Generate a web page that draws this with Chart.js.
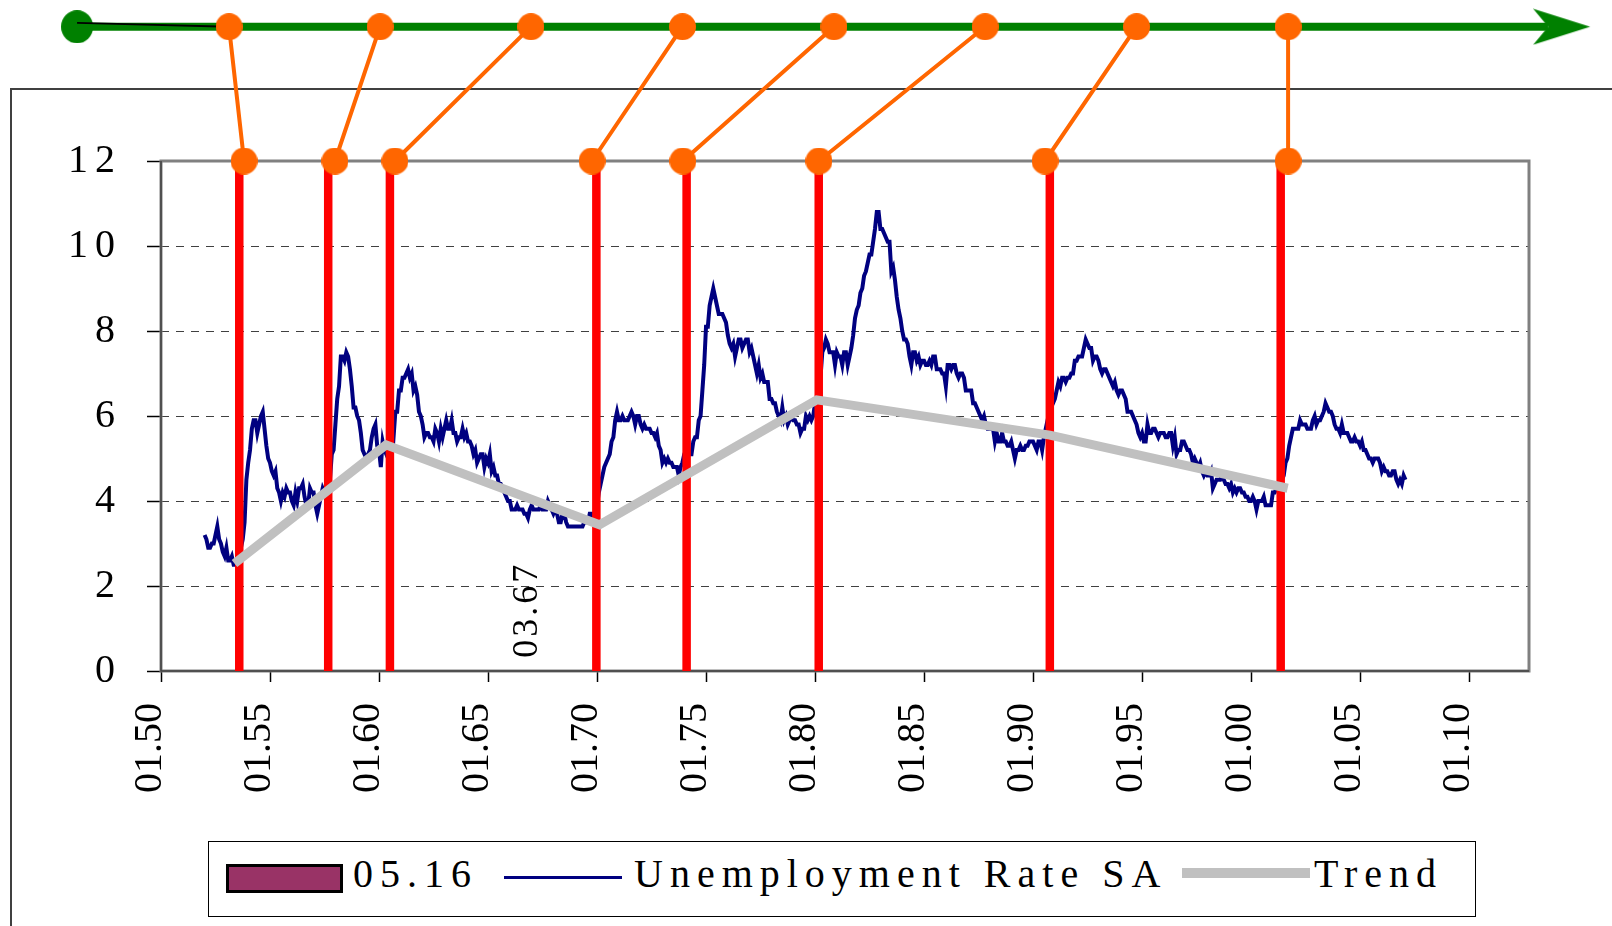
<!DOCTYPE html>
<html>
<head>
<meta charset="utf-8">
<title>Unemployment Rate SA</title>
<script src="https://cdn.jsdelivr.net/npm/chart.js@4.4.1/dist/chart.umd.min.js"></script>
<style>
  html, body { margin: 0; padding: 0; background: #fff; overflow: hidden; }
  #wrap { position: relative; width: 1612px; height: 926px; overflow: hidden; }
  #frame { position: absolute; left: 10px; top: 88px; width: 1700px; height: 900px; border: 2px solid #404040; }
  canvas { position: absolute; left: 0; top: 0; }
  #legend {
    position: absolute; left: 208px; top: 841px; width: 1266px; height: 74px;
    border: 1.5px solid #000; background: #fff;
    font-family: 'Liberation Serif', 'Times New Roman', serif; font-size: 40px; letter-spacing: 7px; color: #000;
  }
  #legend .txt { position: absolute; line-height: 40px; white-space: pre; }
  #legend .sw { position: absolute; box-sizing: border-box; }
</style>
</head>
<body>
<div id="wrap">
  <div id="frame"></div>
  <canvas id="chart" width="1612" height="926"></canvas>
  <div id="legend"></div>
</div>
<script>
// monthly unemployment rate, seasonally adjusted, Jan 1952 .. Feb 2007
const startYear = 1952;
const unrate = [
  3.2, 3.1, 2.9, 2.9, 3.0, 3.0, 3.2, 3.4, 3.1, 3.0, 2.8, 2.7,
  2.9, 2.6, 2.6, 2.7, 2.5, 2.5, 2.6, 2.7, 2.9, 3.1, 3.5, 4.5,
  4.9, 5.2, 5.7, 5.9, 5.9, 5.6, 5.8, 6.0, 6.1, 5.7, 5.3, 5.0,
  4.9, 4.7, 4.6, 4.7, 4.3, 4.2, 4.0, 4.2, 4.1, 4.3, 4.2, 4.2,
  4.0, 3.9, 4.2, 4.0, 4.3, 4.3, 4.4, 4.1, 3.9, 3.9, 4.3, 4.2,
  4.2, 3.9, 3.7, 3.9, 4.1, 4.3, 4.2, 4.1, 4.4, 4.5, 5.1, 5.2,
  5.8, 6.4, 6.7, 7.4, 7.4, 7.3, 7.5, 7.4, 7.1, 6.7, 6.2, 6.2,
  6.0, 5.9, 5.6, 5.2, 5.1, 5.0, 5.1, 5.2, 5.5, 5.7, 5.8, 5.3,
  5.2, 4.8, 5.4, 5.2, 5.1, 5.4, 5.5, 5.6, 5.5, 6.1, 6.1, 6.6,
  6.6, 6.9, 6.9, 7.0, 7.1, 6.9, 7.0, 6.6, 6.7, 6.5, 6.1, 6.0,
  5.8, 5.5, 5.6, 5.6, 5.5, 5.5, 5.4, 5.7, 5.6, 5.4, 5.7, 5.5,
  5.7, 5.9, 5.7, 5.7, 5.9, 5.6, 5.6, 5.4, 5.5, 5.5, 5.7, 5.5,
  5.6, 5.4, 5.4, 5.3, 5.1, 5.2, 4.9, 5.0, 5.1, 5.1, 4.8, 5.0,
  4.9, 5.1, 4.7, 4.8, 4.6, 4.6, 4.4, 4.4, 4.3, 4.2, 4.1, 4.0,
  4.0, 3.8, 3.8, 3.8, 3.9, 3.8, 3.8, 3.8, 3.7, 3.7, 3.6, 3.8,
  3.9, 3.8, 3.8, 3.8, 3.8, 3.9, 3.8, 3.8, 3.8, 4.0, 3.9, 3.8,
  3.7, 3.8, 3.7, 3.5, 3.5, 3.7, 3.7, 3.5, 3.4, 3.4, 3.4, 3.4,
  3.4, 3.4, 3.4, 3.4, 3.4, 3.5, 3.5, 3.5, 3.7, 3.7, 3.5, 3.5,
  3.9, 4.2, 4.4, 4.6, 4.8, 4.9, 5.0, 5.1, 5.4, 5.5, 5.9, 6.1,
  5.9, 5.9, 6.0, 5.9, 5.9, 5.9, 6.0, 6.1, 6.0, 5.8, 6.0, 6.0,
  5.8, 5.7, 5.8, 5.7, 5.7, 5.7, 5.6, 5.6, 5.5, 5.6, 5.3, 5.2,
  4.9, 5.0, 4.9, 5.0, 4.9, 4.9, 4.8, 4.8, 4.8, 4.6, 4.8, 4.9,
  5.1, 5.2, 5.1, 5.1, 5.1, 5.4, 5.5, 5.5, 5.9, 6.0, 6.6, 7.2,
  8.1, 8.1, 8.6, 8.8, 9.0, 8.8, 8.6, 8.4, 8.4, 8.4, 8.3, 8.2,
  7.9, 7.7, 7.6, 7.7, 7.4, 7.6, 7.8, 7.8, 7.6, 7.7, 7.8, 7.8,
  7.5, 7.6, 7.4, 7.2, 7.0, 7.2, 6.9, 7.0, 6.8, 6.8, 6.8, 6.4,
  6.4, 6.3, 6.3, 6.1, 6.0, 5.9, 6.2, 5.9, 6.0, 5.8, 5.9, 6.0,
  5.9, 5.9, 5.8, 5.8, 5.6, 5.7, 5.7, 6.0, 5.9, 6.0, 5.9, 6.0,
  6.3, 6.3, 6.3, 6.9, 7.5, 7.6, 7.8, 7.7, 7.5, 7.5, 7.5, 7.2,
  7.5, 7.4, 7.4, 7.2, 7.5, 7.5, 7.2, 7.4, 7.6, 7.9, 8.3, 8.5,
  8.6, 8.9, 9.0, 9.3, 9.4, 9.6, 9.8, 9.8, 10.1, 10.4, 10.8, 10.8,
  10.4, 10.4, 10.3, 10.2, 10.1, 10.1, 9.4, 9.5, 9.2, 8.8, 8.5, 8.3,
  8.0, 7.8, 7.8, 7.7, 7.4, 7.2, 7.5, 7.5, 7.3, 7.4, 7.2, 7.3,
  7.3, 7.2, 7.2, 7.3, 7.2, 7.4, 7.4, 7.1, 7.1, 7.1, 7.0, 7.0,
  6.7, 7.2, 7.2, 7.1, 7.2, 7.2, 7.0, 6.9, 7.0, 7.0, 6.9, 6.6,
  6.6, 6.6, 6.6, 6.3, 6.3, 6.2, 6.1, 6.0, 5.9, 6.0, 5.8, 5.7,
  5.7, 5.7, 5.7, 5.4, 5.6, 5.4, 5.4, 5.6, 5.4, 5.4, 5.3, 5.3,
  5.4, 5.2, 5.0, 5.2, 5.2, 5.3, 5.2, 5.2, 5.3, 5.3, 5.4, 5.4,
  5.4, 5.3, 5.2, 5.4, 5.4, 5.2, 5.5, 5.7, 5.9, 5.9, 6.2, 6.3,
  6.4, 6.6, 6.8, 6.7, 6.9, 6.9, 6.8, 6.9, 6.9, 7.0, 7.0, 7.3,
  7.3, 7.4, 7.4, 7.4, 7.6, 7.8, 7.7, 7.6, 7.6, 7.3, 7.4, 7.4,
  7.3, 7.1, 7.0, 7.1, 7.1, 7.0, 6.9, 6.8, 6.7, 6.8, 6.6, 6.5,
  6.6, 6.6, 6.5, 6.4, 6.1, 6.1, 6.1, 6.0, 5.9, 5.8, 5.6, 5.5,
  5.6, 5.4, 5.4, 5.8, 5.6, 5.6, 5.7, 5.7, 5.6, 5.5, 5.6, 5.6,
  5.6, 5.5, 5.5, 5.6, 5.6, 5.3, 5.5, 5.1, 5.2, 5.2, 5.4, 5.4,
  5.3, 5.2, 5.2, 5.1, 4.9, 5.0, 4.9, 4.8, 4.9, 4.7, 4.6, 4.7,
  4.6, 4.6, 4.7, 4.3, 4.4, 4.5, 4.5, 4.5, 4.6, 4.5, 4.4, 4.4,
  4.3, 4.4, 4.2, 4.3, 4.2, 4.3, 4.3, 4.2, 4.2, 4.1, 4.1, 4.0,
  4.0, 4.1, 4.0, 3.8, 4.0, 4.0, 4.0, 4.1, 3.9, 3.9, 3.9, 3.9,
  4.2, 4.2, 4.3, 4.4, 4.3, 4.5, 4.6, 4.9, 5.0, 5.3, 5.5, 5.7,
  5.7, 5.7, 5.7, 5.9, 5.8, 5.8, 5.8, 5.7, 5.7, 5.7, 5.9, 6.0,
  5.8, 5.9, 5.9, 6.0, 6.1, 6.3, 6.2, 6.1, 6.1, 6.0, 5.8, 5.7,
  5.7, 5.6, 5.8, 5.6, 5.6, 5.6, 5.5, 5.4, 5.4, 5.5, 5.4, 5.4,
  5.3, 5.4, 5.2, 5.2, 5.1, 5.0, 5.0, 4.9, 5.0, 5.0, 5.0, 4.9,
  4.7, 4.8, 4.7, 4.7, 4.6, 4.6, 4.7, 4.7, 4.5, 4.4, 4.5, 4.4,
  4.6, 4.5
];

// red vertical lines (recession dates, decimal years)
const recessionX = [1953.59, 1957.67, 1960.50, 1969.97, 1974.11, 1980.17, 1990.77, 2001.36];
// orange markers on the top of the plot and on the timeline
const markerX   = [1953.81, 1957.98, 1960.73, 1969.77, 1973.94, 1980.18, 1990.55, 2001.70];
const timelineX = [1953.12, 1960.05, 1966.97, 1973.92, 1980.87, 1987.80, 1994.75, 2001.70];
// trend line vertices
const trendX = [1953.37, 1960.32, 1970.11, 1980.08, 1990.77, 2001.68];
const trendY = [2.53, 5.32, 3.44, 6.38, 5.55, 4.30];
// timeline above the plot (value units)
const timelineY = 15.16;
const timelineStart = 1946.15;
const timelineEnd = 2013.62;
const arrowX = 2014.27;
// ticks
const xTicks = [1950, 1955, 1960, 1965, 1970, 1975, 1980, 1985, 1990, 1995, 2000, 2005, 2010];
const yTicks = [0, 2, 4, 6, 8, 10, 12];
const noteText = '03.67';
const noteX = 1967.25;
const noteY = 0.31;

const seriesLabels = ['05.16', 'Unemployment Rate SA', 'Trend'];

const FONT = "'Liberation Serif', 'Times New Roman', serif";

const unratePoints = unrate.map((v, i) => ({ x: startYear + i / 12, y: v }));
const redPoints = [];
recessionX.forEach(x => { redPoints.push({ x, y: 0 }, { x, y: 12 }, { x, y: null }); });
const connectorPoints = [];
timelineX.forEach((x, i) => {
  connectorPoints.push({ x, y: timelineY }, { x: markerX[i], y: 12 }, { x: markerX[i], y: null });
});
const trendPoints = trendX.map((x, i) => ({ x, y: trendY[i] }));

// marker shapes used as point styles
function dotImage(color, w, h) {
  const c = document.createElement('canvas');
  c.width = w; c.height = h;
  const g = c.getContext('2d');
  g.fillStyle = color;
  g.beginPath();
  g.ellipse(w / 2, h / 2, w / 2, h / 2, 0, 0, Math.PI * 2);
  g.fill();
  return c;
}
function arrowImage(color) {
  const c = document.createElement('canvas');
  c.width = 58; c.height = 37;
  const g = c.getContext('2d');
  g.fillStyle = color;
  g.beginPath();
  g.moveTo(0, 0.5); g.lineTo(57, 18.5); g.lineTo(0, 36.5); g.lineTo(15, 18.5);
  g.closePath();
  g.fill();
  return c;
}
const orangeDot = dotImage('#FF6600', 27, 27);
const greenDot = dotImage('#008000', 32, 33);
const arrowHead = arrowImage('#008000');

const plotFrame = {
  id: 'plotFrame',
  beforeDatasetsDraw(chart) {
    const { ctx, chartArea: a } = chart;
    ctx.save();
    ctx.strokeStyle = '#808080';
    ctx.lineWidth = 3;
    ctx.strokeRect(a.left, a.top, a.right - a.left, a.bottom - a.top);
    ctx.strokeStyle = '#404040';
    ctx.lineWidth = 1.5;
    ctx.beginPath();
    ctx.moveTo(a.left, a.top);
    ctx.lineTo(a.left, a.bottom);
    ctx.lineTo(a.right, a.bottom);
    ctx.stroke();
    ctx.restore();
  },
  afterDraw(chart) {
    const { ctx, scales: { x, y } } = chart;
    ctx.save();
    ctx.fillStyle = '#000';
    ctx.font = '40px ' + FONT;
    ctx.letterSpacing = '7px';
    ctx.textAlign = 'right';
    ctx.textBaseline = 'alphabetic';
    yTicks.forEach(v => {
      ctx.fillText(String(v), 122, y.getPixelForValue(v) + 11);
    });
    // rotated date note
    ctx.font = '36px ' + FONT;
    ctx.letterSpacing = '3px';
    ctx.textAlign = 'left';
    ctx.translate(x.getPixelForValue(noteX), y.getPixelForValue(noteY));
    ctx.rotate(-Math.PI / 2);
    ctx.fillText(noteText, 0, 0);
    ctx.restore();
  }
};

// big hit radius keeps the image markers drawn outside the plot area
const FAR = 400;

const chart = new Chart(document.getElementById('chart'), {
  type: 'line',
  data: {
    datasets: [
      { label: 'connectors', data: connectorPoints, borderColor: '#FF6600', borderWidth: 4,
        pointStyle: orangeDot, pointRadius: FAR, clip: false, order: 1 },
      { label: 'tail', data: [{ x: timelineStart, y: 15.25 }, { x: timelineX[0], y: timelineY }],
        borderColor: '#000', borderWidth: 2, pointRadius: 0, clip: false, order: 2 },
      { label: 'start', data: [{ x: timelineStart, y: timelineY }], showLine: false,
        pointStyle: greenDot, pointRadius: FAR, clip: false, order: 3 },
      { label: 'arrow', data: [{ x: arrowX, y: timelineY }], showLine: false,
        pointStyle: arrowHead, pointRadius: FAR, clip: false, order: 4 },
      { label: 'timeline', data: [{ x: timelineStart, y: timelineY }, { x: timelineEnd, y: timelineY }],
        borderColor: '#008000', borderWidth: 8, pointRadius: 0, clip: false, order: 5 },
      { label: seriesLabels[2], data: trendPoints, borderColor: '#C0C0C0', borderWidth: 9,
        pointRadius: 0, order: 6 },
      { label: 'recessions', data: redPoints, borderColor: '#FF0000', borderWidth: 8.5,
        pointRadius: 0, order: 7 },
      { label: seriesLabels[1], data: unratePoints, borderColor: '#000080', borderWidth: 4,
        pointRadius: 0, order: 8 }
    ]
  },
  options: {
    responsive: false,
    animation: false,
    events: [],
    layout: { autoPadding: false, padding: { left: 0, top: 161, right: 83, bottom: 0 } },
    plugins: { legend: { display: false }, tooltip: { enabled: false } },
    elements: { line: { tension: 0, fill: false } },
    scales: {
      x: {
        type: 'linear', min: 1950, max: 2012.75,
        afterBuildTicks: s => { s.ticks = xTicks.map(v => ({ value: v })); },
        afterFit: s => { s.height = 255; },
        grid: { drawOnChartArea: false, drawTicks: true, tickLength: 11, tickColor: '#000', tickWidth: 1.5 },
        border: { display: false },
        ticks: {
          autoSkip: false, minRotation: 90, maxRotation: 90, padding: 21, labelOffset: -11,
          color: '#000', font: { family: FONT, size: 40 },
          callback: v => '01.' + String(v % 100).padStart(2, '0')
        }
      },
      y: {
        min: 0, max: 12,
        afterFit: s => { s.width = 161; },
        ticks: { stepSize: 2, display: false },
        grid: { color: '#404040', lineWidth: 1, tickLength: 14, tickColor: '#000', tickWidth: 1.5, tickBorderDash: [] },
        border: { display: false, dash: [8, 7] }
      }
    }
  },
  plugins: [plotFrame]
});

// legend box, Excel style
function buildLegend() {
  const box = document.getElementById('legend');
  const items = [
    { type: 'box', color: '#993366', left: 17, top: 22, width: 117, height: 29 },
    { type: 'text', text: seriesLabels[0], left: 144 },
    { type: 'line', color: chart.data.datasets[7].borderColor, left: 295, top: 34, width: 118, height: 3 },
    { type: 'text', text: seriesLabels[1], left: 425 },
    { type: 'line', color: chart.data.datasets[5].borderColor, left: 973, top: 26, width: 128, height: 10 },
    { type: 'text', text: seriesLabels[2], left: 1105 }
  ];
  items.forEach(it => {
    const el = document.createElement('div');
    if (it.type === 'text') {
      el.className = 'txt';
      el.textContent = it.text;
      el.style.left = it.left + 'px';
      el.style.top = '12px';
    } else {
      el.className = 'sw';
      el.style.left = it.left + 'px';
      el.style.top = it.top + 'px';
      el.style.width = it.width + 'px';
      el.style.height = it.height + 'px';
      el.style.background = it.color;
      if (it.type === 'box') el.style.border = '3px solid #000';
    }
    box.appendChild(el);
  });
}
buildLegend();
</script>
</body>
</html>
